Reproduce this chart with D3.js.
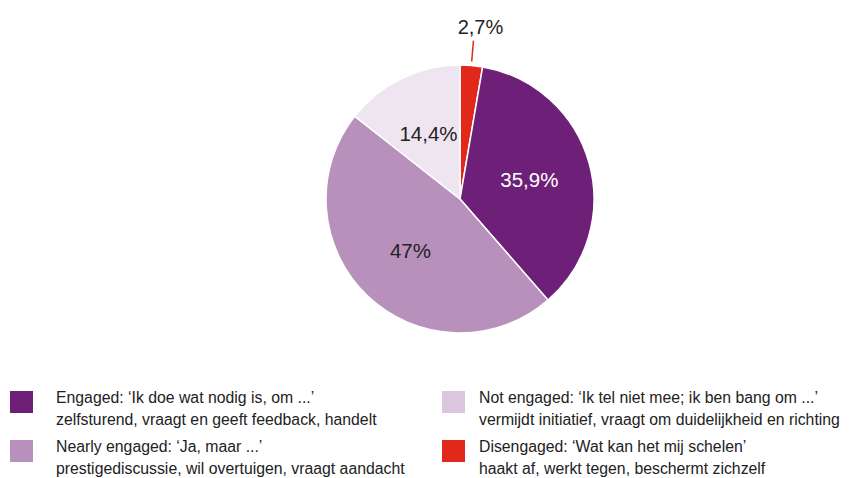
<!DOCTYPE html>
<html><head><meta charset="utf-8">
<script src="https://cdn.jsdelivr.net/npm/d3@7"></script>
<style>
html,body{margin:0;padding:0;background:#fff;}
svg{display:block;font-family:"Liberation Sans",Arial,Helvetica,sans-serif;}
</style></head>
<body>
<svg id="c" width="854" height="478"></svg>
<script>
const categories = ["Disengaged", "Engaged", "Nearly engaged", "Not engaged"];
const values = [2.7, 35.9, 47, 14.4];
const valueLabels = ["2,7%", "35,9%", "47%", "14,4%"];
const sliceColors = ["#e2271b", "#6e1f78", "#b791bc", "#efe5f0"];
const labelColors = ["#222", "#fff", "#222", "#222"];

const legendTitles = [
  "Engaged: \u2018Ik doe wat nodig is, om ...\u2019",
  "Nearly engaged: \u2018Ja, maar ...\u2019",
  "Not engaged: \u2018Ik tel niet mee; ik ben bang om ...\u2019",
  "Disengaged: \u2018Wat kan het mij schelen\u2019"
];
const legendSubs = [
  "zelfsturend, vraagt en geeft feedback, handelt",
  "prestigediscussie, wil overtuigen, vraagt aandacht",
  "vermijdt initiatief, vraagt om duidelijkheid en richting",
  "haakt af, werkt tegen, beschermt zichzelf"
];
const legendColors = ["#6e1f78", "#b791bc", "#dac6dd", "#e2271b"];

const svg = d3.select("#c");
const cx = 460, cy = 199, R = 134;
const g = svg.append("g").attr("transform", `translate(${cx},${cy})`);

const pie = d3.pie().sort(null).value(d => d);
const arcs = pie(values);
const arc = d3.arc().innerRadius(0).outerRadius(R);

g.selectAll("path.slice").data(arcs).enter().append("path")
  .attr("class", "slice")
  .attr("d", arc)
  .attr("fill", (d, i) => sliceColors[i])
  .attr("stroke", "#fff")
  .attr("stroke-width", 1.5);

const labelArc = d3.arc().innerRadius(72).outerRadius(72);
arcs.forEach((d, i) => {
  if (i === 0) {
    const a = (d.startAngle + d.endAngle) / 2;
    const p1 = [Math.sin(a) * (R + 4), -Math.cos(a) * (R + 4)];
    const p2 = [Math.sin(a) * (R + 25), -Math.cos(a) * (R + 25)];
    g.append("line").attr("x1", p1[0]).attr("y1", p1[1]).attr("x2", p2[0]).attr("y2", p2[1])
      .attr("stroke", sliceColors[0]).attr("stroke-width", 1.5);
    g.append("text").attr("x", p2[0] + 7).attr("y", p2[1] - 7)
      .attr("text-anchor", "middle").attr("font-size", 20).attr("fill", "#222")
      .text(valueLabels[i]);
  } else {
    const c = labelArc.centroid(d);
    g.append("text").attr("x", c[0]).attr("y", c[1])
      .attr("text-anchor", "middle").attr("dy", "0.35em")
      .attr("font-size", 20.5).attr("fill", labelColors[i])
      .text(valueLabels[i]);
  }
});

// Legend
const cols = [10, 442];
const textOffsets = [46, 37];
const rows = [391, 440];
const leg = svg.append("g");
legendTitles.forEach((t, i) => {
  const col = Math.floor(i / 2);
  const x = cols[col], y = rows[i % 2];
  leg.append("rect").attr("x", x).attr("y", y).attr("width", 23).attr("height", 22)
    .attr("fill", legendColors[i]);
  leg.append("text").attr("x", x + textOffsets[col]).attr("y", y + 12).attr("font-size", 15.8).attr("fill", "#222").text(t);
  leg.append("text").attr("x", x + textOffsets[col]).attr("y", y + 34).attr("font-size", 15.8).attr("fill", "#222").text(legendSubs[i]);
});
</script>
</body></html>
